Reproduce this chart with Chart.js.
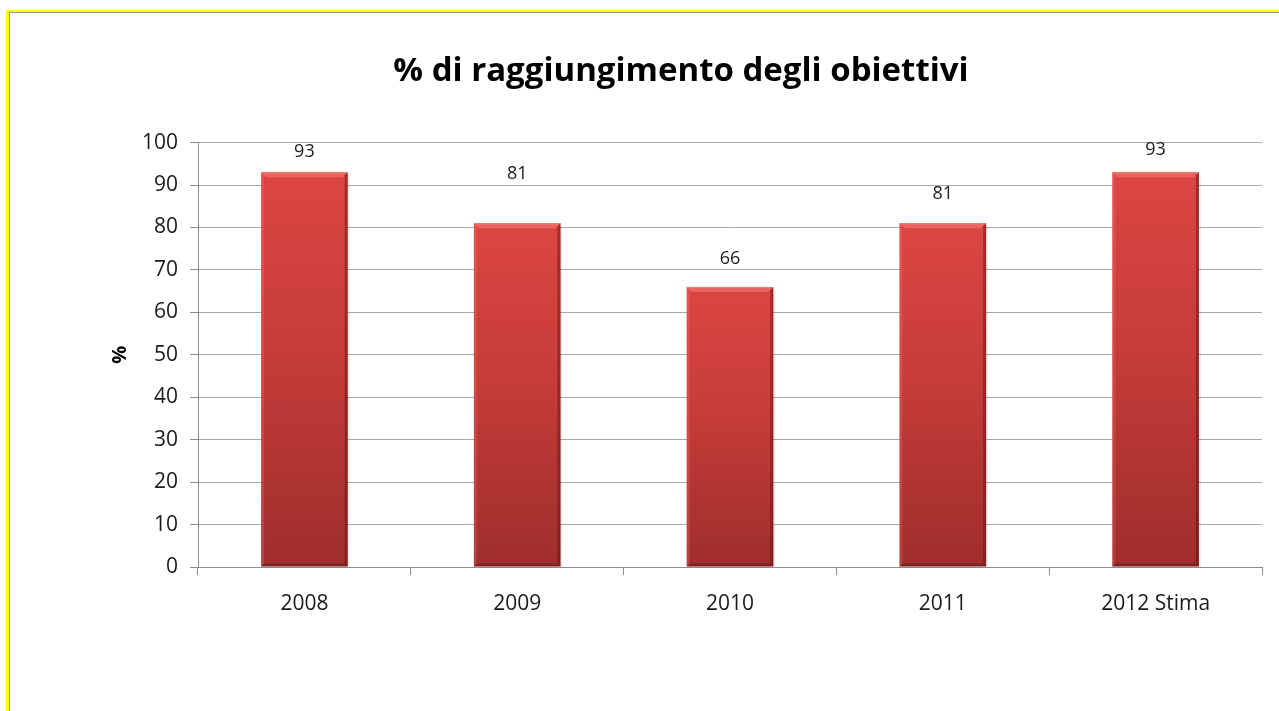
<!DOCTYPE html>
<html>
<head>
<meta charset="utf-8">
<script src="https://cdn.jsdelivr.net/npm/chart.js@4.4.1/dist/chart.umd.min.js"></script>
<style>
  html, body { margin: 0; padding: 0; background: #fff; }
  #wrap { width: 1279px; height: 711px; position: relative; }
</style>
</head>
<body>
<div id="wrap"><canvas id="obiettivi"></canvas></div>
<script>
const anni = ['2008', '2009', '2010', '2011', '2012 Stima'];
const percentuali = [93, 81, 66, 81, 93];
const yTicks = [0, 10, 20, 30, 40, 50, 60, 70, 80, 90, 100];
// how far above each bar its value label sits (px)
const labelLift = [20, 49, 28, 29, 22];

const FONT = "'Open Sans', 'Noto Sans', sans-serif";

// yellow / gray frame round the slide
const frame = {
  id: 'frame',
  beforeDraw(chart) {
    const c = chart.ctx;
    c.save();
    c.fillStyle = '#ffff00';
    c.fillRect(6, 10, 3, 711);
    c.fillRect(6, 10, 1279, 2);
    c.fillStyle = '#9a9a9a';
    c.fillRect(9, 12, 1, 711);
    c.fillRect(9, 12, 1279, 1);
    c.restore();
  }
};

// bevelled edges on the bars + value labels
const bevel = {
  id: 'bevel',
  afterDatasetsDraw(chart) {
    const c = chart.ctx;
    const meta = chart.getDatasetMeta(0);
    c.save();
    meta.data.forEach((bar, i) => {
      const l = bar.x - bar.width / 2, r = bar.x + bar.width / 2;
      const t = bar.y, b = bar.base, d = 5;
      // top
      c.fillStyle = '#ea6561';
      c.beginPath();
      c.moveTo(l, t); c.lineTo(r, t); c.lineTo(r - d, t + d); c.lineTo(l + d, t + d);
      c.closePath(); c.fill();
      c.fillStyle = 'rgba(255,140,135,0.6)';
      c.fillRect(l, t, r - l, 1);
      // right
      c.fillStyle = 'rgba(90,15,15,0.45)';
      c.beginPath();
      c.moveTo(r, t); c.lineTo(r, b); c.lineTo(r - 3, b - 3); c.lineTo(r - 3, t + 3);
      c.closePath(); c.fill();
      // bottom
      c.fillStyle = 'rgba(80,15,15,0.35)';
      c.beginPath();
      c.moveTo(l, b); c.lineTo(r, b); c.lineTo(r - 3, b - 3); c.lineTo(l + 3, b - 3);
      c.closePath(); c.fill();
      // left
      c.fillStyle = 'rgba(255,120,115,0.25)';
      c.beginPath();
      c.moveTo(l, t); c.lineTo(l + 3, t + 3); c.lineTo(l + 3, b - 3); c.lineTo(l, b);
      c.closePath(); c.fill();
      // soft shadow on the right
      c.fillStyle = 'rgba(0,0,0,0.08)';
      c.fillRect(r, t + 3, 2, b - t - 3);

      c.fillStyle = '#1a1a1a';
      c.font = '18px ' + FONT;
      c.textAlign = 'center';
      c.textBaseline = 'middle';
      c.fillText(String(percentuali[i]), bar.x, t - labelLift[i]);
    });
    c.restore();
  }
};

new Chart(document.getElementById('obiettivi'), {
  type: 'bar',
  data: {
    labels: anni,
    datasets: [{
      data: percentuali,
      categoryPercentage: 1,
      barPercentage: 0.407,
      borderWidth: 0,
      backgroundColor: ctx => {
        const ch = ctx.chart;
        if (!ch.chartArea || ctx.raw === undefined) return '#c83c38';
        const y = ch.scales.y;
        const top = y.getPixelForValue(ctx.raw), base = y.getPixelForValue(0);
        const g = ch.ctx.createLinearGradient(0, top, 0, base);
        g.addColorStop(0, '#dc4642');
        g.addColorStop(0.45, '#c63c39');
        g.addColorStop(1, '#9e2e2c');
        return g;
      }
    }]
  },
  options: {
    responsive: true,
    maintainAspectRatio: false,
    animation: false,
    layout: { padding: { left: 100, right: 17, top: 0, bottom: 84 } },
    plugins: {
      legend: { display: false },
      tooltip: { enabled: false },
      title: {
        display: true,
        text: '% di raggiungimento degli obiettivi',
        color: '#000',
        font: { family: FONT, size: 33, weight: 'bold', lineHeight: 1.2 },
        padding: { top: 52, bottom: 51 }
      }
    },
    scales: {
      x: {
        offset: true,
        afterFit: s => { s.height = 60; },
        grid: {
          offset: true,
          drawOnChartArea: false,
          drawTicks: true,
          tickLength: 8,
          color: '#8c8c8c'
        },
        border: { color: '#8c8c8c' },
        ticks: { color: '#1a1a1a', padding: 16, font: { family: FONT, size: 21 } }
      },
      y: {
        min: 0,
        max: 100,
        afterFit: s => { s.width = 98; },
        afterBuildTicks: s => { s.ticks = yTicks.map(v => ({ value: v })); },
        grid: { color: '#a8a8a8', tickLength: 8, tickColor: '#8c8c8c' },
        border: { color: '#8c8c8c' },
        ticks: { color: '#1a1a1a', padding: 12, font: { family: FONT, size: 21 } },
        title: {
          display: true,
          text: '%',
          color: '#000',
          padding: { top: 8, bottom: 0 },
          font: { family: FONT, size: 20, weight: 'bold', lineHeight: 1.2 }
        }
      }
    }
  },
  plugins: [frame, bevel]
});
</script>
</body>
</html>
